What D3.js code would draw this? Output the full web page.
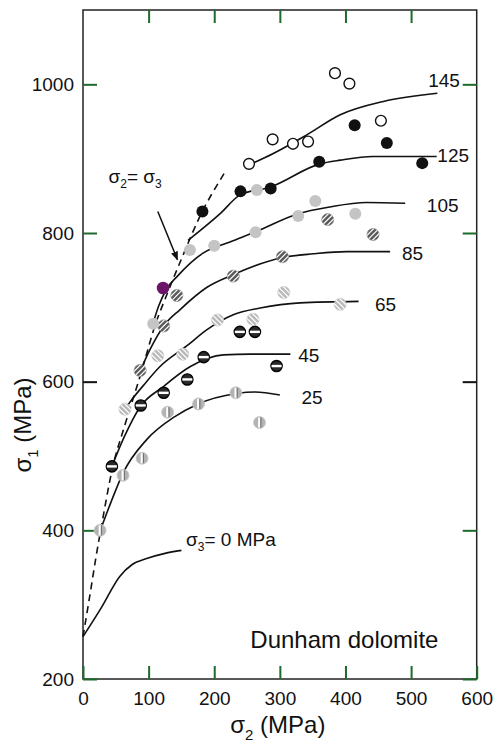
<!DOCTYPE html>
<html>
<head>
<meta charset="utf-8">
<script src="https://cdn.jsdelivr.net/npm/d3@7"></script>
<style>
  body { margin: 0; background: #fff; }
  svg { display: block; }
</style>
</head>
<body>
<div id="chart"></div>
<script>
// chart settings
const width = 494;
const height = 742;
const margin = { top: 10, right: 17.3, bottom: 63, left: 83 };
const font = '"Liberation Sans", Arial, Helvetica, sans-serif';
const green = "#1d6b2c";

// axes
const xDomain = [0, 600];
const yDomain = [200, 1100];
const xTicks = [0, 100, 200, 300, 400, 500, 600];
const yTicks = [200, 400, 600, 800, 1000];

// test results [sigma2, sigma1] in MPa, one list per sigma3
const pts145 = [[253, 893], [289, 926], [320, 920], [343, 923], [384, 1015], [406, 1001], [454, 951]];
const pts125 = [[182, 829], [240, 856], [286, 860], [360, 896], [414, 945], [463, 921], [517, 894]];
const ptsPurple = [[122, 726]];
const pts105 = [[107, 678], [163, 777], [200, 783], [263, 801], [265, 858], [328, 823], [354, 843], [415, 826]];
const pts85 = [[87, 615], [123, 675], [143, 716], [229, 742], [304, 768], [373, 818], [442, 798]];
const pts65 = [[64, 563], [114, 635], [152, 637], [205, 683], [259, 684], [306, 720], [392, 704]];
const pts45 = [[44, 486], [88, 568], [123, 585], [159, 603], [184, 633], [239, 667], [262, 667], [295, 621]];
const pts25 = [[26, 400], [61, 474], [90, 497], [129, 559], [176, 570], [233, 585], [269, 545]];

// fitted curves [sigma2, sigma1]
const curve145 = [[254, 892], [290, 907], [341, 932], [392, 959], [458, 977], [540, 988]];
const curve125 = [[160, 790], [209, 826], [239, 851], [286, 862], [361, 893], [392, 898], [442, 903], [539, 903]];
const curve105 = [[107, 679], [115, 701], [127, 724], [145, 743], [183, 773], [224, 788], [264, 802], [328, 826], [376, 835], [432, 841], [491, 840]];
const curve85 = [[87, 614], [102, 643], [123, 675], [148, 697], [189, 727], [229, 744], [304, 767], [351, 772], [402, 775], [468, 775]];
const curve65 = [[64, 563], [72, 573], [95, 598], [117, 620], [158, 648], [189, 670], [229, 690], [270, 699], [331, 706], [420, 708]];
const curve45 = [[44, 486], [63, 526], [87, 566], [122, 593], [163, 620], [214, 636], [255, 637], [316, 637]];
const curve25 = [[26, 399], [44, 441], [61, 477], [97, 522], [140, 553], [173, 569], [234, 584], [262, 586], [300, 582]];
const curve0 = [[0, 257], [28, 296], [56, 338], [75, 354], [97, 362], [125, 369], [150, 373]];
const curveEqual = [[0, 257], [10, 310], [20, 365], [30, 415], [44, 480], [65, 545], [88, 610], [110, 676], [130, 722], [150, 765], [178, 822], [215, 880]];

// curve labels (sigma3) and where they sit, in MPa
const curveNames = ["145", "125", "105", "85", "65", "45", "25"];
const curveNameAt = [[526, 997], [540, 896], [524, 828], [486, 764], [445, 695], [328, 627], [333, 570]];

// annotations, in MPa
const arrowFromTo = [[114, 829], [144, 764]];
const equalLabelAt = [39, 867];
const zeroLabelAt = [157, 379];
const rockLabelAt = [255, 242];

const svg = d3.select("#chart")
  .append("svg")
  .attr("width", width)
  .attr("height", height)
  .style("font-family", font);

const x = d3.scaleLinear()
  .domain(xDomain)
  .range([margin.left, width - margin.right]);

const y = d3.scaleLinear()
  .domain(yDomain)
  .range([height - margin.bottom, margin.top]);

const defs = svg.append("defs");
defs.append("clipPath").attr("id", "dot")
  .append("circle").attr("r", 6);
defs.append("marker")
  .attr("id", "head")
  .attr("viewBox", "0 0 10 10")
  .attr("refX", 9).attr("refY", 5)
  .attr("markerWidth", 9).attr("markerHeight", 9)
  .attr("markerUnits", "userSpaceOnUse")
  .attr("orient", "auto")
  .append("path")
  .attr("d", "M0,1 L10,5 L0,9 Z")
  .attr("fill", "#111");

// frame
svg.append("rect")
  .attr("x", x(0))
  .attr("y", y(1100))
  .attr("width", x(600) - x(0))
  .attr("height", y(200) - y(1100))
  .attr("fill", "none")
  .attr("stroke", "#222")
  .attr("stroke-width", 1.5);

function tickStyle(g, isY) {
  g.select(".domain").remove();
  g.selectAll(".tick line")
    .attr("stroke", d => (isY && d === 600) ? "#111" : green)
    .attr("stroke-width", 2);
  g.selectAll(".tick text")
    .attr("fill", "#111")
    .style("font-size", "19px")
    .style("font-family", font);
}

svg.append("g")
  .attr("transform", `translate(0, ${y(200)})`)
  .call(d3.axisBottom(x).tickValues(xTicks).tickSize(-13).tickPadding(12.5).tickFormat(d3.format("d")))
  .call(g => tickStyle(g, false));

svg.append("g")
  .attr("transform", `translate(0, ${y(1100)})`)
  .call(d3.axisTop(x).tickValues(xTicks.slice(1, 6)).tickSize(-13).tickFormat(""))
  .call(g => tickStyle(g, false));

svg.append("g")
  .attr("transform", `translate(${x(0)}, 0)`)
  .call(d3.axisLeft(y).tickValues(yTicks).tickSize(-14).tickPadding(9).tickFormat(d3.format("d")))
  .call(g => tickStyle(g, true));

svg.append("g")
  .attr("transform", `translate(${x(600)}, 0)`)
  .call(d3.axisRight(y).tickValues(yTicks).tickSize(-14).tickFormat(""))
  .call(g => tickStyle(g, true));

// text with subscripts: parts = [[text, isSub], ...]
function richText(sel, parts, size) {
  const sub = Math.round(size * 0.62);
  const shift = Math.round(size * 0.28);
  let down = false;
  parts.forEach(([t, isSub]) => {
    const span = sel.append("tspan").text(t);
    if (isSub) {
      span.attr("font-size", sub).attr("dy", shift);
      down = true;
    } else {
      span.attr("font-size", size);
      if (down) { span.attr("dy", -shift); down = false; }
    }
  });
}

// axis titles
svg.append("text")
  .attr("x", (x(0) + x(600)) / 2 - 2)
  .attr("y", 733)
  .attr("text-anchor", "middle")
  .attr("fill", "#111")
  .call(t => richText(t, [["σ", false], ["2", true], [" (MPa)", false]], 24));

svg.append("text")
  .attr("transform", "translate(31, 425) rotate(-90)")
  .attr("text-anchor", "middle")
  .attr("fill", "#111")
  .call(t => richText(t, [["σ", false], ["1", true], [" (MPa)", false]], 24));

// lines
const line = d3.line()
  .x(d => x(d[0]))
  .y(d => y(d[1]))
  .curve(d3.curveMonotoneX);

const curves = [curve145, curve125, curve105, curve85, curve65, curve45, curve25, curve0];
svg.append("g")
  .selectAll("path")
  .data(curves)
  .join("path")
    .attr("d", line)
    .attr("fill", "none")
    .attr("stroke", "#111")
    .attr("stroke-width", 1.6);

svg.append("path")
  .attr("d", line(curveEqual))
  .attr("fill", "none")
  .attr("stroke", "#111")
  .attr("stroke-width", 1.6)
  .attr("stroke-dasharray", "7,5");

// markers
function dots(pts, kind) {
  const g = svg.append("g")
    .selectAll("g")
    .data(pts)
    .join("g")
      .attr("transform", d => `translate(${x(d[0])}, ${y(d[1])})`);

  if (kind === "open") {
    g.append("circle").attr("r", 5.4).attr("fill", "#fff").attr("stroke", "#111").attr("stroke-width", 1.4);
  } else if (kind === "black") {
    g.append("circle").attr("r", 6).attr("fill", "#111");
  } else if (kind === "gray") {
    g.append("circle").attr("r", 6).attr("fill", "#c4c4c4");
  } else if (kind === "purple") {
    g.append("circle").attr("r", 6.3).attr("fill", "#6b1468");
  } else if (kind === "hatchDark" || kind === "hatchLight") {
    const dark = kind === "hatchDark";
    g.append("circle").attr("r", 6).attr("fill", dark ? "#5a5a5a" : "#b9b9b9")
      .attr("stroke", dark ? "#8a8a8a" : "#c8c8c8").attr("stroke-width", 0.8);
    const s = g.append("g").attr("clip-path", "url(#dot)");
    [-2.6, 0, 2.6].forEach(k => {
      s.append("line")
        .attr("x1", -8 + k).attr("y1", dark ? 8 + k : -8 - k)
        .attr("x2", 8 + k).attr("y2", dark ? -8 + k : 8 - k)
        .attr("stroke", "#fff").attr("stroke-width", 1.2);
    });
  } else if (kind === "bar") {
    g.append("circle").attr("r", 5.6).attr("fill", "#2a2a2a").attr("stroke", "#000").attr("stroke-width", 1.4);
    g.append("rect").attr("x", -5).attr("y", -1.2).attr("width", 10).attr("height", 2.4).attr("fill", "#fff");
  } else if (kind === "vbar") {
    g.append("circle").attr("r", 6).attr("fill", "#b3b3b3").attr("stroke", "#c9c9c9").attr("stroke-width", 0.8);
    g.append("rect").attr("x", -1.4).attr("y", -5).attr("width", 2.2).attr("height", 10).attr("fill", "#fff");
    g.append("rect").attr("x", 0.8).attr("y", -5).attr("width", 1.1).attr("height", 10).attr("fill", "#6f6f6f");
  }
}

dots(pts25, "vbar");
dots(pts45, "bar");
dots(pts65, "hatchLight");
dots(pts85, "hatchDark");
dots(pts105, "gray");
dots(ptsPurple, "purple");
dots(pts125, "black");
dots(pts145, "open");

// curve labels
svg.append("g")
  .selectAll("text")
  .data(curveNames)
  .join("text")
    .attr("x", (d, i) => x(curveNameAt[i][0]))
    .attr("y", (d, i) => y(curveNameAt[i][1]))
    .attr("fill", "#111")
    .style("font-size", "19px")
    .text(d => d);

// sigma2 = sigma3 annotation
svg.append("line")
  .attr("x1", x(arrowFromTo[0][0])).attr("y1", y(arrowFromTo[0][1]))
  .attr("x2", x(arrowFromTo[1][0])).attr("y2", y(arrowFromTo[1][1]))
  .attr("stroke", "#111")
  .attr("stroke-width", 1.5)
  .attr("marker-end", "url(#head)");

svg.append("text")
  .attr("x", x(equalLabelAt[0]))
  .attr("y", y(equalLabelAt[1]))
  .attr("fill", "#111")
  .call(t => richText(t, [["σ", false], ["2", true], ["= σ", false], ["3", true]], 19));

svg.append("text")
  .attr("x", x(zeroLabelAt[0]))
  .attr("y", y(zeroLabelAt[1]))
  .attr("fill", "#111")
  .call(t => richText(t, [["σ", false], ["3", true], ["= 0 MPa", false]], 19));

svg.append("text")
  .attr("x", x(rockLabelAt[0]))
  .attr("y", y(rockLabelAt[1]))
  .attr("fill", "#111")
  .style("font-size", "24px")
  .text("Dunham dolomite");
</script>
</body>
</html>
